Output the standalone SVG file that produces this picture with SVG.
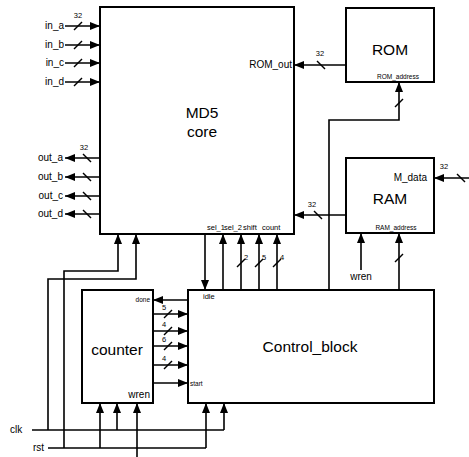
<svg xmlns="http://www.w3.org/2000/svg" width="469" height="457" viewBox="0 0 469 457">
<style>
.box{fill:#fff;stroke:#000;stroke-width:2}
.w{fill:none;stroke:#000;stroke-width:1.6}
.a{fill:none;stroke:#000;stroke-width:1.6;marker-end:url(#ah)}
.sl{stroke:#000;stroke-width:1.4}
text{font-family:"Liberation Sans",Arial,sans-serif;fill:#000}
.big{font-size:15.5px}
.lbl{font-size:10px}
.sm{font-size:7.5px}
.xs{font-size:6.5px}
</style>
<defs>
<marker id="ah" markerUnits="userSpaceOnUse" markerWidth="11" markerHeight="8" refX="10" refY="4" orient="auto">
<path d="M0,0 L10,4 L0,8 z" fill="#000"/>
</marker>
</defs>

<g id="md5core">
<rect class="box" x="100" y="7" width="194" height="227"/>
<text class="big" x="202" y="118" text-anchor="middle">MD5</text>
<text class="big" x="202" y="137" text-anchor="middle">core</text>
<text class="lbl" x="292" y="68" text-anchor="end">ROM_out</text>
<text class="sm" x="207" y="230">sel_1</text>
<text class="sm" x="224" y="230">sel_2</text>
<text class="sm" x="243" y="230">shift</text>
<text class="sm" x="262" y="230">count</text>
</g>

<g id="rom">
<rect class="box" x="346" y="8" width="88" height="74"/>
<text class="big" x="390" y="55" text-anchor="middle">ROM</text>
<text class="xs" x="398" y="79" text-anchor="middle">ROM_address</text>
</g>

<g id="ram">
<rect class="box" x="346" y="158" width="88" height="75"/>
<text class="big" x="390" y="204" text-anchor="middle">RAM</text>
<text class="lbl" x="427" y="181" text-anchor="end">M_data</text>
<text class="xs" x="396" y="230" text-anchor="middle">RAM_address</text>
</g>

<g id="counter">
<rect class="box" x="82" y="290" width="71" height="113"/>
<text class="big" x="117" y="355" text-anchor="middle">counter</text>
<text class="xs" x="150" y="302" text-anchor="end">done</text>
<text class="lbl" x="150" y="398" text-anchor="end">wren</text>
</g>

<g id="control_block">
<rect class="box" x="188" y="290" width="246" height="113"/>
<text class="big" x="310" y="352" text-anchor="middle">Control_block</text>
<text class="sm" x="203" y="299">idle</text>
<text class="xs" x="190" y="386">start</text>
</g>

<g id="connectors">
<!-- inputs a-d -->
<text class="lbl" x="64" y="29" text-anchor="end">in_a</text>
<text class="lbl" x="64" y="48" text-anchor="end">in_b</text>
<text class="lbl" x="64" y="66" text-anchor="end">in_c</text>
<text class="lbl" x="64" y="85" text-anchor="end">in_d</text>
<text class="sm" x="78" y="18" text-anchor="middle">32</text>
<line class="a" x1="65" y1="26" x2="100" y2="26"/>
<line class="a" x1="65" y1="45" x2="100" y2="45"/>
<line class="a" x1="65" y1="63" x2="100" y2="63"/>
<line class="a" x1="65" y1="82" x2="100" y2="82"/>
<line class="sl" x1="74" y1="30" x2="82" y2="22"/>
<line class="sl" x1="74" y1="49" x2="82" y2="41"/>
<line class="sl" x1="74" y1="67" x2="82" y2="59"/>
<line class="sl" x1="74" y1="86" x2="82" y2="78"/>

<!-- outputs -->
<text class="lbl" x="63" y="161" text-anchor="end">out_a</text>
<text class="lbl" x="63" y="180" text-anchor="end">out_b</text>
<text class="lbl" x="63" y="199" text-anchor="end">out_c</text>
<text class="lbl" x="63" y="217" text-anchor="end">out_d</text>
<text class="sm" x="84" y="150" text-anchor="middle">32</text>
<line class="a" x1="100" y1="158" x2="65" y2="158"/>
<line class="a" x1="100" y1="177" x2="65" y2="177"/>
<line class="a" x1="100" y1="196" x2="65" y2="196"/>
<line class="a" x1="100" y1="214" x2="65" y2="214"/>
<line class="sl" x1="83" y1="154" x2="91" y2="162"/>
<line class="sl" x1="83" y1="173" x2="91" y2="181"/>
<line class="sl" x1="83" y1="192" x2="91" y2="200"/>
<line class="sl" x1="83" y1="210" x2="91" y2="218"/>

<!-- ROM_out -->
<line class="a" x1="346" y1="65" x2="294" y2="65"/>
<line class="sl" x1="317" y1="61" x2="325" y2="69"/>
<text class="sm" x="320" y="56" text-anchor="middle">32</text>

<!-- ROM address -->
<polyline class="a" points="329,290 329,120 399,120 399,82"/>
<line class="sl" x1="395" y1="107" x2="403" y2="99"/>

<!-- RAM to MD5 -->
<line class="a" x1="346" y1="215" x2="294" y2="215"/>
<line class="sl" x1="314" y1="211" x2="322" y2="219"/>
<text class="sm" x="312" y="207" text-anchor="middle">32</text>

<!-- M_data -->
<line class="a" x1="469" y1="178" x2="434" y2="178"/>
<line class="sl" x1="457" y1="174" x2="465" y2="182"/>
<text class="sm" x="444" y="169" text-anchor="middle">32</text>

<!-- RAM wren / address -->
<line class="a" x1="361" y1="270" x2="361" y2="233"/>
<text class="lbl" x="361" y="280" text-anchor="middle">wren</text>
<line class="a" x1="399" y1="290" x2="399" y2="233"/>
<line class="sl" x1="395" y1="262" x2="403" y2="254"/>

<!-- MD5 <-> control -->
<line class="a" x1="205" y1="234" x2="205" y2="290"/>
<line class="a" x1="223" y1="290" x2="223" y2="234"/>
<line class="a" x1="241" y1="290" x2="241" y2="234"/>
<line class="a" x1="259" y1="290" x2="259" y2="234"/>
<line class="a" x1="277" y1="290" x2="277" y2="234"/>
<line class="sl" x1="237" y1="267" x2="245" y2="259"/>
<line class="sl" x1="255" y1="267" x2="263" y2="259"/>
<line class="sl" x1="273" y1="267" x2="281" y2="259"/>
<text class="sm" x="244" y="260">2</text>
<text class="sm" x="262" y="260">5</text>
<text class="sm" x="280" y="260">4</text>

<!-- counter <-> control -->
<line class="a" x1="188" y1="300" x2="153" y2="300"/>
<line class="a" x1="153" y1="314" x2="188" y2="314"/>
<line class="a" x1="153" y1="331" x2="188" y2="331"/>
<line class="a" x1="153" y1="346" x2="188" y2="346"/>
<line class="a" x1="153" y1="365" x2="188" y2="365"/>
<line class="a" x1="153" y1="383" x2="188" y2="383"/>
<line class="sl" x1="164" y1="318" x2="172" y2="310"/>
<line class="sl" x1="164" y1="335" x2="172" y2="327"/>
<line class="sl" x1="164" y1="350" x2="172" y2="342"/>
<line class="sl" x1="164" y1="369" x2="172" y2="361"/>
<text class="sm" x="162" y="310">5</text>
<text class="sm" x="162" y="327">4</text>
<text class="sm" x="162" y="342">6</text>
<text class="sm" x="162" y="361">4</text>

<!-- clk / rst -->
<text class="lbl" x="10" y="433">clk</text>
<text class="lbl" x="33" y="451">rst</text>
<line class="w" x1="32" y1="430" x2="224" y2="430"/>
<line class="w" x1="48" y1="448" x2="206" y2="448"/>
<polyline class="a" points="48,430 48,279 136,279 136,234"/>
<polyline class="a" points="64,448 64,271 118,271 118,234"/>
<line class="a" x1="100" y1="448" x2="100" y2="403"/>
<line class="a" x1="117" y1="430" x2="117" y2="403"/>
<line class="a" x1="137" y1="457" x2="137" y2="403"/>
<line class="a" x1="206" y1="448" x2="206" y2="403"/>
<line class="a" x1="224" y1="430" x2="224" y2="403"/>
</g>
</svg>
